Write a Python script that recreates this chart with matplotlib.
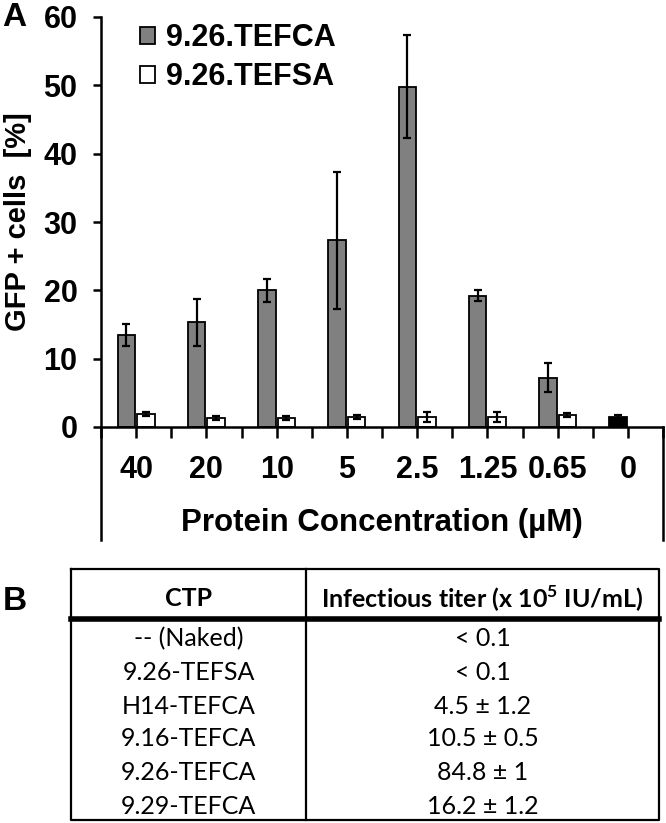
#!/usr/bin/env python3
import numpy as np
import matplotlib
matplotlib.use("Agg")
import matplotlib.pyplot as plt
from matplotlib.patches import Patch

# panel A data
conc_labels = ["40", "20", "10", "5", "2.5", "1.25", "0.65", "0"]
tefca_mean = [13.5, 15.3, 20.0, 27.3, 49.8, 19.2, 7.2, 1.5]
tefca_err = [1.6, 3.4, 1.7, 10.0, 7.5, 0.8, 2.1, 0.3]
tefsa_mean = [1.9, 1.3, 1.3, 1.5, 1.5, 1.5, 1.7]
tefsa_err = [0.3, 0.3, 0.3, 0.3, 0.7, 0.7, 0.3]

# panel B table
ctp_names = ["-- (Naked)", "9.26-TEFSA", "H14-TEFCA", "9.16-TEFCA", "9.26-TEFCA", "9.29-TEFCA"]
titer_labels = ["< 0.1", "< 0.1", "4.5 \u00b1 1.2", "10.5 \u00b1 0.5", "84.8 \u00b1 1", "16.2 \u00b1 1.2"]

W, H = 666, 823
plt.rcParams['font.family'] = ['Liberation Sans', 'DejaVu Sans']
plt.rcParams['mathtext.fontset'] = 'custom'
plt.rcParams['mathtext.rm'] = 'Lato'
plt.rcParams['mathtext.bf'] = 'Lato:bold'

fig = plt.figure(figsize=(W / 100, H / 100), dpi=100)

# pixel -> figure fraction helpers
def fx(px):
    return px / W

def fy(py):
    return 1 - py / H

ax = fig.add_axes([fx(101), fy(427), fx(663) - fx(101), fy(17) - fy(427)])

x = np.arange(len(conc_labels))
bw = 0.25
off = 0.14
colors = ['#808080'] * (len(conc_labels) - 1) + ['black']
ax.bar(x - off, tefca_mean, bw, color=colors, edgecolor='black', linewidth=1.3, zorder=2)
ax.errorbar(x - off, tefca_mean, yerr=tefca_err, fmt='none', ecolor='black',
            elinewidth=1.6, capsize=3, capthick=1.6, zorder=3)
xs = x[:len(tefsa_mean)] + off
ax.bar(xs, tefsa_mean, bw, color='white', edgecolor='black', linewidth=1.3, zorder=2)
ax.errorbar(xs, tefsa_mean, yerr=tefsa_err, fmt='none', ecolor='black',
            elinewidth=1.6, capsize=3, capthick=1.6, zorder=3)

ax.set_xlim(-0.5, len(conc_labels) - 0.5)
ax.set_ylim(0, 60)
ax.set_yticks(range(0, 61, 10))
ax.set_xticks(x)
ax.set_xticklabels(conc_labels)
ax.set_xticks(np.arange(-0.5, len(conc_labels), 1.0), minor=True)
for s in ['top', 'right']:
    ax.spines[s].set_visible(False)
ax.spines['left'].set_linewidth(1.8)
ax.spines['bottom'].set_linewidth(1.8)
ax.tick_params(axis='y', direction='out', length=6, width=1.8, labelsize=22, pad=11)
ax.tick_params(axis='x', which='both', direction='out', length=8, width=1.8)
ax.tick_params(axis='x', which='major', labelsize=22, pad=12)
for lab in ax.get_xticklabels() + ax.get_yticklabels():
    lab.set_fontweight('bold')

# frame lines hanging below the category axis
ybot = -(540 - 427) / (427 - 17) * 60
ax.plot([-0.5, -0.5], [0, ybot], color='black', lw=1.8, clip_on=False)
ax.plot([7.5, 7.5], [0, ybot], color='black', lw=1.8, clip_on=False)

fig.text(fx(18), fy(222), "GFP + cells  [%]", fontsize=21, fontweight='bold',
         rotation=90, ha='center', va='center')
fig.text(fx(382), fy(523), "Protein Concentration (\u00b5M)", fontsize=22.5, fontweight='bold',
         ha='center', va='center')

handles = [Patch(facecolor='#808080', edgecolor='black', linewidth=1.3),
           Patch(facecolor='white', edgecolor='black', linewidth=1.3)]
leg = ax.legend(handles, ["9.26.TEFCA", "9.26.TEFSA"], loc='upper left',
                bbox_to_anchor=(0.069, 0.985), frameon=False, handlelength=0.5,
                handleheight=0.5, handletextpad=0.35, labelspacing=0.3,
                borderpad=0, borderaxespad=0, prop={'weight': 'bold', 'size': 22})

fig.text(fx(2), fy(17), "A", fontsize=24, fontweight='bold', va='center')
fig.text(fx(3), fy(602), "B", fontsize=24, fontweight='bold', va='center')

# table of panel B drawn on an overlay axis in pixel coordinates
tax = fig.add_axes([0, 0, 1, 1])
tax.set_xlim(0, W)
tax.set_ylim(H, 0)
tax.axis('off')
left, mid, right = 71, 306, 659
top, thick, bottom = 569, 619, 820
lw = 1.6
tax.plot([left, right, right, left, left], [top, top, bottom, bottom, top], color='black', lw=lw)
tax.plot([mid, mid], [top, bottom], color='black', lw=lw)
tax.plot([left, right], [thick, thick], color='black', lw=4)

tfont = ['Lato', 'DejaVu Sans']
tax.text((left + mid) / 2, 599, "CTP", family=tfont, fontsize=18, fontweight='bold',
         ha='center', va='center')
tax.text((mid + right) / 2, 599, r"Infectious titer (x 10$^{\mathbf{5}}$ IU/mL)", family=tfont,
         fontsize=18, fontweight='bold', ha='center', va='center')
row_y = [639, 673, 706, 739, 772, 806]
for ry, name, tit in zip(row_y, ctp_names, titer_labels):
    tax.text((left + mid) / 2, ry, name, family=tfont, fontsize=18, ha='center', va='center')
    tax.text((mid + right) / 2, ry, tit, family=tfont, fontsize=18, ha='center', va='center')

fig.savefig("out.png", dpi=100)
